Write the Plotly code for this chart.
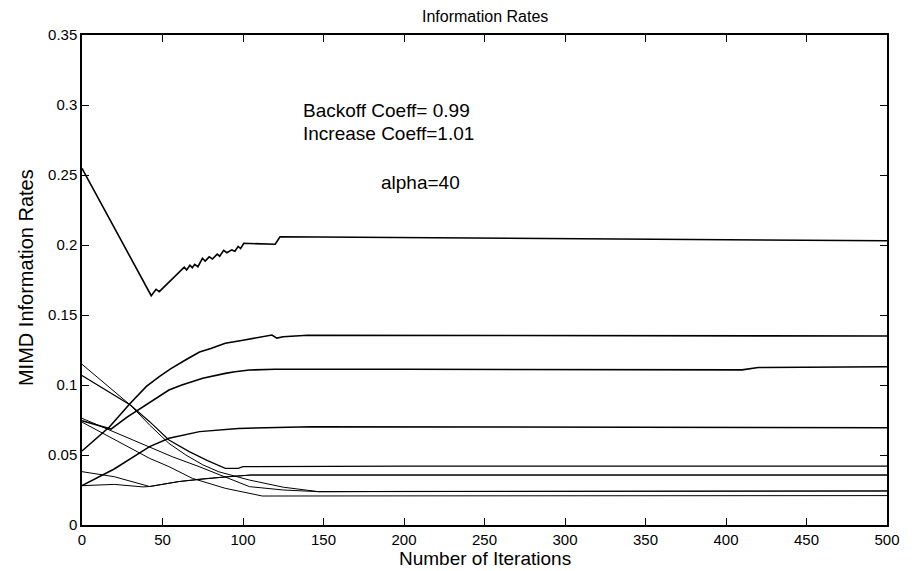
import plotly.graph_objects as go

# ---- data (iterations, MIMD information rate) ----
a_x = [0, 43, 46, 48, 63.5, 65, 67, 68.5, 70, 72, 74.8, 76.5, 79, 81, 84, 85.5, 88, 90, 93, 95, 97, 98.5, 100.5, 120, 123, 200, 300, 400, 500]
a_y = [0.2548, 0.1638, 0.1683, 0.1667, 0.1841, 0.1821, 0.1855, 0.1838, 0.1862, 0.1845, 0.1905, 0.1885, 0.1915, 0.1900, 0.1935, 0.1920, 0.1962, 0.1945, 0.1965, 0.1955, 0.1990, 0.1975, 0.2012, 0.2005, 0.2059, 0.2052, 0.2045, 0.2038, 0.2030]

b_x = [0, 17, 30, 40, 48, 55, 64.5, 73, 80, 89, 100, 110, 118, 121, 125, 140, 200, 500]
b_y = [0.0529, 0.0700, 0.0870, 0.0990, 0.1060, 0.1115, 0.1180, 0.1235, 0.1260, 0.1298, 0.1320, 0.1340, 0.1357, 0.1335, 0.1345, 0.1355, 0.1355, 0.1350]

c_x = [0, 18, 28, 38, 46, 54, 62, 75, 89, 95, 104, 120, 200, 300, 410, 420, 500]
c_y = [0.0745, 0.0685, 0.0770, 0.0845, 0.0905, 0.0964, 0.1000, 0.1048, 0.1083, 0.1095, 0.1107, 0.1112, 0.1112, 0.1110, 0.1108, 0.1125, 0.1130]

d_x = [0, 20, 42, 54, 73, 97, 142, 300, 500]
d_y = [0.0281, 0.0400, 0.0560, 0.0619, 0.0667, 0.0690, 0.0702, 0.0700, 0.0695]

e_x = [0, 30, 42, 54, 66.6, 78, 89, 97, 100, 200, 500]
e_y = [0.1067, 0.0857, 0.0738, 0.0607, 0.0524, 0.0460, 0.0405, 0.0405, 0.0417, 0.0420, 0.0421]

f_x = [0, 30, 42, 54, 64.5, 75, 85, 104, 125, 147, 200, 500]
f_y = [0.1148, 0.0857, 0.0714, 0.0583, 0.0500, 0.0430, 0.0380, 0.0321, 0.0270, 0.0238, 0.0240, 0.0243]

g_x = [0, 42, 56, 72.7, 85, 104, 125, 147, 500]
g_y = [0.0762, 0.0560, 0.0488, 0.0417, 0.0360, 0.0274, 0.0250, 0.0238, 0.0243]

h_x = [0, 42, 54, 68.6, 89, 104, 112, 200, 500]
h_y = [0.0735, 0.0476, 0.0417, 0.0333, 0.0262, 0.0226, 0.0207, 0.0208, 0.0210]

i_x = [0, 20, 42, 60, 75, 90, 105, 500]
i_y = [0.0381, 0.0345, 0.0275, 0.0310, 0.0330, 0.0345, 0.0357, 0.0357]

j_x = [0, 20, 38, 42, 60, 75, 90, 105, 500]
j_y = [0.0281, 0.0290, 0.0272, 0.0275, 0.0310, 0.0330, 0.0345, 0.0357, 0.0357]

series = [(a_x, a_y), (b_x, b_y), (c_x, c_y), (d_x, d_y), (e_x, e_y),
          (f_x, f_y), (g_x, g_y), (h_x, h_y), (i_x, i_y), (j_x, j_y)]
# the upper four rates oscillate finely, which reads as a heavier stroke
widths = [1.6, 1.6, 1.6, 1.5, 1.2, 1, 1, 1, 1, 1]

x_ticks = [0, 50, 100, 150, 200, 250, 300, 350, 400, 450, 500]
y_ticks = [0, 0.05, 0.1, 0.15, 0.2, 0.25, 0.3, 0.35]
y_tick_text = ["0", "0.05", "0.1", "0.15", "0.2", "0.25", "0.3", "0.35"]

title_text = "Information Rates"
x_title = "Number of Iterations"
y_title = "MIMD Information Rates"
notes = ["Backoff Coeff= 0.99", "Increase Coeff=1.01", "alpha=40"]

FONT = "Liberation Sans, Arial, Helvetica, sans-serif"

fig = go.Figure()
for (xs, ys), w in zip(series, widths):
    fig.add_trace(go.Scatter(x=xs, y=ys, mode="lines",
                             line=dict(color="black", width=w),
                             showlegend=False, hoverinfo="skip"))

axis_common = dict(showline=True, linecolor="black", linewidth=1.5, mirror="ticks",
                   ticks="inside", ticklen=7, tickcolor="black", tickwidth=1,
                   showgrid=False, zeroline=False,
                   tickfont=dict(family=FONT, size=15, color="black"))

fig.update_layout(
    width=912, height=571,
    margin=dict(l=82, r=19, t=35, b=46),
    paper_bgcolor="white", plot_bgcolor="white",
    font=dict(family=FONT, color="black"),
    xaxis=dict(range=[0, 500], tickvals=x_ticks, **axis_common),
    yaxis=dict(range=[0, 0.35], tickvals=y_ticks, ticktext=y_tick_text, **axis_common),
    annotations=[
        dict(text=title_text, xref="paper", yref="paper", x=0.5, y=1, yshift=19,
             showarrow=False, font=dict(size=16), xanchor="center", yanchor="middle"),
        dict(text=x_title, xref="paper", yref="paper", x=0.5, y=0, yshift=-33,
             showarrow=False, font=dict(size=19), xanchor="center", yanchor="middle"),
        dict(text=y_title, xref="paper", yref="paper", x=0, xshift=-56, y=0.504,
             showarrow=False, font=dict(size=20), textangle=-90,
             xanchor="center", yanchor="middle"),
        dict(text=notes[0], xref="x", yref="y", x=136.2, y=0.2964, showarrow=False,
             font=dict(size=19), xanchor="left", yanchor="middle"),
        dict(text=notes[1], xref="x", yref="y", x=136.2, y=0.2800, showarrow=False,
             font=dict(size=19), xanchor="left", yanchor="middle"),
        dict(text=notes[2], xref="x", yref="y", x=210.2, y=0.2443, showarrow=False,
             font=dict(size=19), xanchor="center", yanchor="middle"),
    ],
)

fig.write_html("out.html")
